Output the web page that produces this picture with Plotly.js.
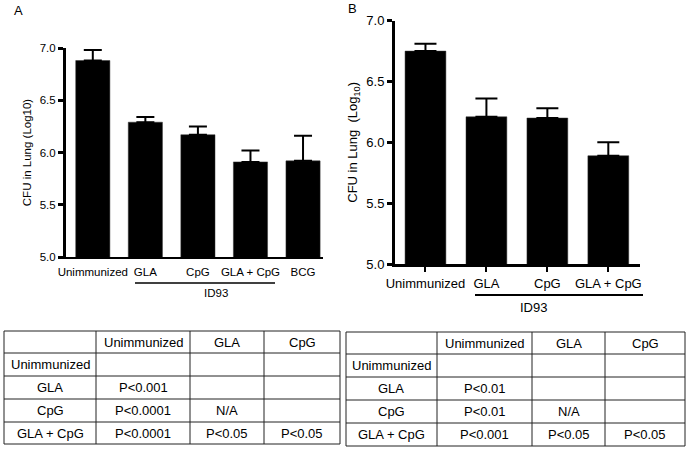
<!DOCTYPE html>
<html>
<head>
<meta charset="utf-8">
<script src="https://cdn.plot.ly/plotly-3.0.1.min.js"></script>
<style>
  body { margin: 0; background: #fff; }
  #grafica { width: 688px; height: 452px; }
</style>
</head>
<body>
<div id="grafica"></div>
<script>
// panel A
const gruposA = ['Unimmunized', 'GLA', 'CpG', 'GLA + CpG', 'BCG'];
const cfuA = [6.88, 6.29, 6.17, 5.91, 5.92];
const errA = [0.10, 0.05, 0.08, 0.11, 0.24];

// panel B
const gruposB = ['Unimmunized', 'GLA', 'CpG', 'GLA + CpG'];
const cfuB = [6.75, 6.21, 6.20, 5.89];
const errB = [0.06, 0.15, 0.08, 0.11];

const yTicks = [5.0, 5.5, 6.0, 6.5, 7.0];

// tablas de p-valores (por columna)
const cabecera = ['', 'Unimmunized', 'GLA', 'CpG'];
const filas = ['Unimmunized', 'GLA', 'CpG', 'GLA + CpG'];
const pUnimmA = ['', 'P<0.001', 'P<0.0001', 'P<0.0001'];
const pGlaA = ['', '', 'N/A', 'P<0.05'];
const pCpgA = ['', '', '', 'P<0.05'];
const pUnimmB = ['', 'P<0.01', 'P<0.01', 'P<0.001'];
const pGlaB = ['', '', 'N/A', 'P<0.05'];
const pCpgB = ['', '', '', 'P<0.05'];

const fuente = 'Arial, "Liberation Sans", sans-serif';
const W = 688, H = 452;
const px = v => v / W;
const py = v => 1 - v / H;

function barras(x, y, err, ancho, capa, eje) {
    return {
        type: 'bar',
        x: x,
        y: y,
        xaxis: 'x' + eje,
        yaxis: 'y' + eje,
        width: ancho,
        marker: { color: '#000', line: { color: '#333', width: 0.5 } },
        error_y: {
            type: 'data', symmetric: false,
            array: err, arrayminus: err.map(() => 0),
            color: '#000', thickness: 2, width: capa
        },
        hoverinfo: 'skip'
    };
}

// rejilla y textos de una tabla, a partir de las columnas
function tabla(columnas, x0, y0, anchos, altos, shapes, annots) {
    const xs = [x0];
    anchos.forEach(a => xs.push(xs[xs.length - 1] + a));
    const ys = [y0];
    altos.forEach(a => ys.push(ys[ys.length - 1] + a));
    const linea = { color: '#222', width: 1 };
    xs.forEach(x => shapes.push({ type: 'line', xref: 'paper', yref: 'paper',
        x0: px(x), x1: px(x), y0: py(ys[0]), y1: py(ys[ys.length - 1]), line: linea }));
    ys.forEach(y => shapes.push({ type: 'line', xref: 'paper', yref: 'paper',
        x0: px(xs[0]), x1: px(xs[xs.length - 1]), y0: py(y), y1: py(y), line: linea }));
    const texto = (t, c, r) => {
        if (!t) return;
        annots.push({ text: t, xref: 'paper', yref: 'paper', showarrow: false,
            x: px((xs[c] + xs[c + 1]) / 2), y: py((ys[r] + ys[r + 1]) / 2),
            xanchor: 'center', yanchor: 'middle',
            font: { family: fuente, size: 13, color: '#000' } });
    };
    cabecera.forEach((t, c) => texto(t, c, 0));
    columnas.forEach((col, c) => col.forEach((t, r) => texto(t, c, r + 1)));
}

const datos = [
    barras(gruposA, cfuA, errA, 0.65, 9, ''),
    barras(gruposB, cfuB, errB, 0.67, 11, '2')
];

const ejeY = (dom, tam, titulo) => ({
    domain: dom,
    range: [5, 7],
    tickvals: yTicks,
    ticktext: yTicks.map(v => v.toFixed(1)),
    showgrid: false,
    zeroline: false,
    showline: true,
    linecolor: '#000',
    linewidth: 3,
    ticks: 'outside',
    ticklen: 5,
    tickwidth: 3,
    tickcolor: '#000',
    tickfont: { family: fuente, size: tam, color: '#000' },
    title: { text: titulo, font: { family: fuente, size: tam, color: '#000' } },
    fixedrange: true
});

const shapes = [
    { type: 'line', xref: 'paper', yref: 'paper', x0: px(135), x1: px(275), y0: py(283), y1: py(283), line: { color: '#000', width: 1.5 } },
    { type: 'line', xref: 'paper', yref: 'paper', x0: px(475), x1: px(643), y0: py(295), y1: py(295), line: { color: '#000', width: 2 } }
];
const annotations = [
    { text: 'A', xref: 'paper', yref: 'paper', x: px(12), y: py(10), yanchor: 'middle', showarrow: false, font: { family: fuente, size: 13, color: '#000' } },
    { text: 'B', xref: 'paper', yref: 'paper', x: px(352), y: py(9), yanchor: 'middle', showarrow: false, font: { family: fuente, size: 13, color: '#000' } },
    { text: 'ID93', xref: 'paper', yref: 'paper', x: px(202), y: py(293), yanchor: 'middle', showarrow: false, font: { family: fuente, size: 11.5, color: '#000' } },
    { text: 'ID93', xref: 'paper', yref: 'paper', x: px(549), y: py(307), yanchor: 'middle', showarrow: false, font: { family: fuente, size: 13, color: '#000' } }
];

tabla([filas, pUnimmA, pGlaA, pCpgA], 4, 331, [92, 94, 74, 76], [22, 23, 23, 23, 22], shapes, annotations);
tabla([filas, pUnimmB, pGlaB, pCpgB], 346, 332, [91, 95, 73, 80], [22, 23, 23, 23, 23], shapes, annotations);

const layout = {
    width: W,
    height: H,
    margin: { l: 0, r: 0, t: 0, b: 0 },
    paper_bgcolor: '#fff',
    plot_bgcolor: '#fff',
    showlegend: false,
    xaxis: {
        domain: [px(66), px(323)],
        range: [-0.51, 4.38],
        showgrid: false,
        zeroline: false,
        showline: true,
        linecolor: '#000',
        linewidth: 2,
        ticks: '',
        ticklabelstandoff: 3,
        tickfont: { family: fuente, size: 11.5, color: '#000' },
        fixedrange: true
    },
    yaxis: ejeY([py(257), py(48)], 11.5, 'CFU in Lung (Log10)'),
    xaxis2: {
        domain: [px(395), px(640)],
        range: [-0.5, 3.52],
        anchor: 'y2',
        showgrid: false,
        zeroline: false,
        showline: true,
        linecolor: '#000',
        linewidth: 3,
        ticks: 'outside',
        ticklen: 5,
        tickwidth: 2,
        tickcolor: '#000',
        tickfont: { family: fuente, size: 13, color: '#000' },
        fixedrange: true
    },
    yaxis2: Object.assign(ejeY([py(264), py(20.7)], 13, 'CFU in Lung&nbsp;&nbsp;(Log<sub>10</sub>)'), { anchor: 'x2' }),
    shapes: shapes,
    annotations: annotations
};

Plotly.newPlot('grafica', datos, layout, { displayModeBar: false, staticPlot: true });
</script>
</body>
</html>
